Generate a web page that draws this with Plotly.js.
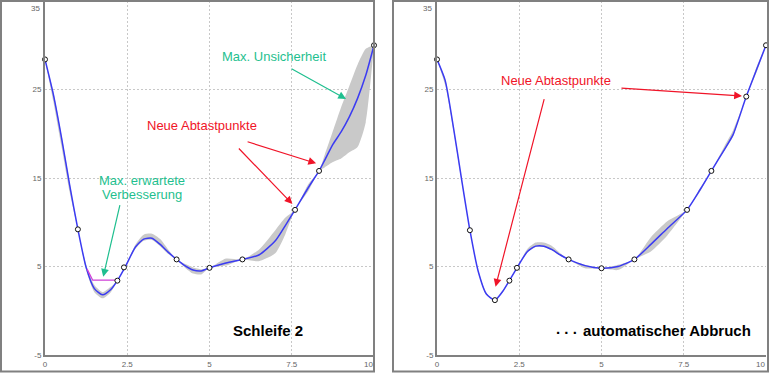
<!DOCTYPE html>
<html>
<head>
<meta charset="utf-8">
<script src="https://cdn.plot.ly/plotly-3.0.1.min.js"></script>
<style>html,body{margin:0;padding:0;background:#fff;}#chart{width:769px;height:373px;}</style>
</head>
<body>
<div id="chart"></div>
<script>
// ---- Left panel (Schleife 2) ----
const xsL = [0,0.25,0.5,0.75,1,1.25,1.5,1.75,2,2.2,2.43,2.75,3,3.25,3.5,3.75,4,4.25,4.5,4.75,5,5.5,6,6.5,7,7.3,7.6,8,8.33,8.5,8.75,9,9.25,9.5,9.75,10];
const meanL = [28.4,24.5,19.6,14.2,9.2,4.9,2.5,1.8,2.4,3.4,4.9,7.2,8.1,8.2,7.5,6.6,5.8,5.1,4.6,4.5,4.85,5.4,5.8,6.3,7.9,9.6,11.4,13.9,15.8,17.0,18.8,20.2,21.9,24.0,26.6,30.0];
const upperL = [28.4,24.8,19.9,14.5,9.2,5.2,2.9,2.1,2.7,3.4,4.9,7.5,8.6,8.7,8.1,6.9,5.8,5.3,4.9,4.7,4.85,5.9,5.8,6.9,9.1,10.5,11.4,14.3,15.8,17.6,20.3,23.0,25.4,27.8,29.6,30.0];
const lowerL = [28.4,23.7,18.6,13.4,9.2,4.6,2.1,1.4,2.1,3.4,4.9,7.0,7.9,8.0,7.3,6.4,5.8,4.9,4.2,4.1,4.85,5.1,5.8,5.6,6.5,8.6,11.4,13.5,15.8,16.2,16.8,17.2,17.9,18.5,21.3,30.0];
const ptsXL = [0,1,2.2,2.4,4,5,6,7.6,8.33,10];
const ptsYL = [28.4,9.2,3.4,4.9,5.8,4.85,5.8,11.4,15.8,30];
const eiX = [1.28,1.45,2.18];
const eiY = [4.7,3.45,3.45];

// ---- Right panel (automatischer Abbruch) ----
const xsR = [0,0.25,0.5,0.75,1,1.25,1.5,1.76,2,2.2,2.43,2.75,3,3.25,3.5,3.75,4,4.5,5,5.5,6,6.5,7,7.6,8,8.34,8.75,9,9.4,9.75,10];
const meanR = [28.4,26.0,20.7,14.8,9.1,4.5,1.9,1.2,2.2,3.4,4.85,6.7,7.3,7.3,6.9,6.3,5.8,5.1,4.8,5.0,5.8,7.5,9.3,11.4,13.7,15.8,18.3,19.9,24.2,27.6,30];
const upperR = [28.4,26.2,20.9,14.9,9.1,4.6,2.0,1.2,2.3,3.4,4.85,7.0,7.7,7.7,7.3,6.5,5.8,5.2,4.8,5.2,5.8,8.3,10.1,11.4,13.9,15.8,18.7,20.4,24.2,27.9,30];
const lowerR = [28.4,25.5,20.4,14.6,9.1,4.4,1.8,1.2,2.1,3.4,4.85,6.6,7.2,7.2,6.8,6.2,5.8,4.8,4.8,4.6,5.8,6.7,8.5,11.4,13.5,15.8,18.2,19.7,24.2,27.3,30];
const ptsXR = [0,1,1.76,2.2,2.43,4,5,6,7.6,8.34,9.4,10];
const ptsYR = [28.4,9.1,1.2,3.4,4.85,5.8,4.8,5.8,11.4,15.8,24.2,30];

// Tick values/labels. The last label of each axis sits at the plot edge and is
// drawn inward (as in the reference) via an annotation.
const xTicks = [0,2.5,5,7.5,10];
const xTickText = ['0','2.5','5','7.5','10'];
const yTicks = [-5,5,15,25,35];
const yTickText = ['-5','5','15','25','35'];

const BLUE = '#3b3bf2';
const BAND = '#c9c9c9';
const TEAL = '#1fbf8f';
const RED = '#f01428';

function band(xs, up, lo, xa, ya) {
  return {x: xs.concat(xs.slice().reverse()), y: up.concat(lo.slice().reverse()),
    xaxis: xa, yaxis: ya, type: 'scatter', mode: 'lines', fill: 'toself',
    fillcolor: BAND, line: {width: 0, shape: 'spline', smoothing: 0.6}, hoverinfo: 'skip', showlegend: false};
}
function mean(xs, ys, xa, ya) {
  return {x: xs, y: ys, xaxis: xa, yaxis: ya, type: 'scatter', mode: 'lines',
    line: {color: BLUE, width: 1.5, shape: 'spline', smoothing: 0.6}, showlegend: false};
}
function pts(xs, ys, xa, ya) {
  return {x: xs, y: ys, xaxis: xa, yaxis: ya, type: 'scatter', mode: 'markers',
    marker: {symbol: 'circle', size: 5, color: '#ffffff', line: {color: '#111', width: 1}},
    cliponaxis: false, showlegend: false};
}

const data = [
  band(xsL, upperL, lowerL, 'x', 'y'),
  mean(xsL, meanL, 'x', 'y'),
  {x: eiX, y: eiY, xaxis: 'x', yaxis: 'y', type: 'scatter', mode: 'lines',
   line: {color: '#d040d8', width: 1.3}, showlegend: false},
  pts(ptsXL, ptsYL, 'x', 'y'),
  band(xsR, upperR, lowerR, 'x2', 'y2'),
  mean(xsR, meanR, 'x2', 'y2'),
  pts(ptsXR, ptsYR, 'x2', 'y2')
];

const W = 769, H = 373;
const yDom = [1 - 355/H, 1 - 1/H];
const TF = {family: 'Liberation Sans, Arial, sans-serif', size: 8, color: '#666'};
const nX = xTicks.length, nY = yTicks.length;
function xax(dom) {
  return {domain: dom, range: [0, 10], tickvals: xTicks,
    ticktext: xTickText.map((t, i) => i === nX - 1 ? '' : t),
    showgrid: true, gridcolor: '#c8c8c8', griddash: '2px,2px', gridwidth: 1,
    zeroline: false, showline: true, linecolor: '#808080', linewidth: 2,
    ticks: '', tickfont: TF, fixedrange: true};
}
function yax(anchor) {
  return {domain: yDom, anchor: anchor, range: [-5, 35], tickvals: yTicks,
    ticktext: yTickText.map((t, i) => i === nY - 1 ? '' : t),
    showgrid: true, gridcolor: '#c8c8c8', griddash: '2px,2px', gridwidth: 1,
    zeroline: false, showline: true, linecolor: '#808080', linewidth: 2,
    ticks: '', tickfont: TF, fixedrange: true};
}

const F = 'Liberation Sans, Arial, sans-serif';
function txt(xr, yr, x, y, t, color, size, bold) {
  return {xref: xr, yref: yr, x: x, y: y, text: bold ? '<b>' + t + '</b>' : t, showarrow: false,
    font: {family: F, size: size, color: color}, xanchor: 'center', yanchor: 'middle'};
}
function arr(xr, yr, x, y, ax, ay, color) {
  return {xref: xr, yref: yr, x: x, y: y, ax: ax, ay: ay, text: '', showarrow: true,
    arrowhead: 2, arrowsize: 1.3, arrowwidth: 1.2, arrowcolor: color, standoff: 0, startstandoff: 0};
}
function edgeLabels(xr, yr) {
  return [
    {xref: xr + ' domain', yref: yr, x: 0, y: yTicks[nY - 1], text: yTickText[nY - 1], showarrow: false,
     font: TF, xanchor: 'right', yanchor: 'top', xshift: -3, yshift: -1},
    {xref: xr, yref: yr + ' domain', x: xTicks[nX - 1], y: 0, text: xTickText[nX - 1], showarrow: false,
     font: TF, xanchor: 'right', yanchor: 'top', xshift: 1, yshift: -3}
  ];
}

const annotations = [
  txt('x','y', 6.97, 28.7, 'Max. Unsicherheit', TEAL, 13),
  arr('x','y', 9.15, 23.93, -56, -31, TEAL),
  txt('x','y', 4.76, 20.88, 'Neue Abtastpunkte', RED, 13),
  arr('x','y', 8.24, 16.66, -70, -22, RED),
  arr('x','y', 7.52, 12.06, -55, -57, RED),
  txt('x','y', 2.94, 14.70, 'Max. erwartete', TEAL, 13),
  txt('x','y', 2.94, 13.08, 'Verbesserung', TEAL, 13),
  arr('x','y', 1.77, 3.85, 17, -73, TEAL),
  txt('x','y', 6.78, -2.23, 'Schleife 2', '#000', 15, true),

  txt('x2','y2', 3.62, 26.0, 'Neue Abtastpunkte', RED, 13),
  arr('x2','y2', 1.78, 2.72, 49, -189, RED),
  arr('x2','y2', 9.27, 24.27, -122, -8, RED),
  txt('x2','y2', 3.95, -2.0, '. . .', '#000', 15, true),
  txt('x2','y2', 6.98, -2.18, 'automatischer Abbruch', '#000', 15, true)
].concat(edgeLabels('x', 'y'), edgeLabels('x2', 'y2'));

const shapes = [
  {type: 'rect', xref: 'paper', yref: 'paper', x0: 1/W, x1: 374/W, y0: 1 - 371.5/H, y1: 1 - 1/H,
   line: {color: '#808080', width: 2}, fillcolor: 'rgba(0,0,0,0)', layer: 'above'},
  {type: 'rect', xref: 'paper', yref: 'paper', x0: 393/W, x1: 768/W, y0: 1 - 371.5/H, y1: 1 - 1/H,
   line: {color: '#808080', width: 2}, fillcolor: 'rgba(0,0,0,0)', layer: 'above'}
];

const layout = {
  width: W, height: H, margin: {l: 0, r: 0, t: 0, b: 0},
  paper_bgcolor: '#fff', plot_bgcolor: '#fff', showlegend: false,
  xaxis: Object.assign(xax([45/W, 374/W]), {anchor: 'y'}),
  yaxis: yax('x'),
  xaxis2: Object.assign(xax([437/W, 766/W]), {anchor: 'y2'}),
  yaxis2: yax('x2'),
  annotations: annotations, shapes: shapes
};

Plotly.newPlot('chart', data, layout, {displayModeBar: false, staticPlot: true});
</script>
</body>
</html>
